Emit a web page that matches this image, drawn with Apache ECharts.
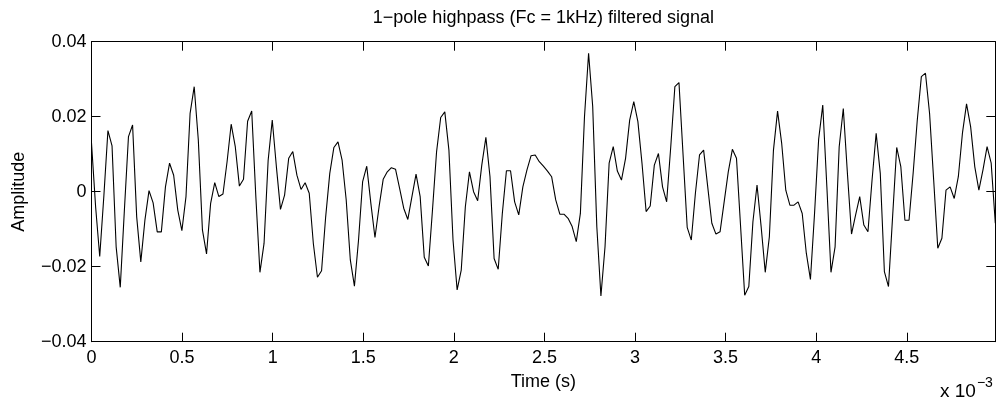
<!DOCTYPE html>
<html>
<head>
<meta charset="utf-8">
<script src="https://cdn.jsdelivr.net/npm/echarts@6/dist/echarts.min.js"></script>
<style>
html,body{margin:0;padding:0;background:#fff;}
#chart{width:997px;height:406px;}
</style>
</head>
<body>
<div id="chart"></div>
<script>
// Sample rate and filtered signal samples
const sampleRate = 44100;
const amplitude = [
 0.013, -0.004, -0.0173, -0.0013, 0.0163, 0.0122, -0.0147, -0.0255, -0.005, 0.0147,
 0.0178, -0.0067, -0.0187, -0.0076, 0.0003, -0.003, -0.0107, -0.0107, 0.0013, 0.0076,
 0.0044, -0.0049, -0.0104, -0.0013, 0.0209, 0.028, 0.0138, -0.0102, -0.0166, -0.0031,
 0.0024, -0.0013, -0.0006, 0.008, 0.018, 0.012, 0.0015, 0.0033, 0.0188, 0.0215,
 -0.0013, -0.0215, -0.0138, 0.0084, 0.0191, 0.0067, -0.0047, -0.0009, 0.0089, 0.0107,
 0.0044, 0.0006, 0.0024, -0.0004, -0.0138, -0.0228, -0.0211, -0.0067, 0.0049, 0.0118,
 0.0133, 0.0084, -0.0022, -0.0182, -0.0252, -0.0129, 0.0027, 0.0068, -0.0031, -0.0122,
 -0.004, 0.0033, 0.0053, 0.0064, 0.006, 0.0009, -0.0044, -0.0074, -0.0013, 0.0047,
 -0.0013, -0.0175, -0.0198, -0.0049, 0.0107, 0.0198, 0.0213, 0.0111, -0.0129, -0.0262,
 -0.0209, -0.004, 0.0053, 0.0, -0.0024, 0.0071, 0.0145, 0.004, -0.0178, -0.0207,
 -0.0058, 0.0056, 0.0056, -0.0027, -0.0062, 0.0013, 0.0058, 0.0096, 0.0098, 0.008,
 0.0068, 0.0055, 0.004, -0.0022, -0.006, -0.006, -0.0071, -0.0093, -0.0133, -0.0058,
 0.02, 0.0369, 0.0227, -0.0093, -0.0278, -0.0147, 0.0076, 0.012, 0.0055, 0.0031,
 0.0089, 0.0191, 0.024, 0.0187, 0.0076, -0.0053, -0.0038, 0.0071, 0.0102, 0.0013,
 -0.0027, 0.012, 0.028, 0.0291, 0.0098, -0.0095, -0.0129, -0.0004, 0.0098, 0.0111,
 0.0013, -0.0084, -0.0113, -0.0107, -0.0027, 0.0053, 0.0113, 0.0089, -0.0093, -0.0276,
 -0.0253, -0.008, 0.0018, -0.0093, -0.0215, -0.012, 0.0111, 0.0215, 0.0129, 0.0004,
 -0.0036, -0.0036, -0.0027, -0.0058, -0.0164, -0.0234, -0.0058, 0.014, 0.0231, 0.0013,
 -0.0215, -0.0147, 0.012, 0.0222, 0.0049, -0.0113, -0.0062, -0.0013, -0.0089, -0.0107,
 0.0031, 0.0156, 0.0049, -0.0213, -0.0253, -0.0067, 0.0118, 0.0067, -0.0076, -0.0076,
 0.0049, 0.019, 0.0307, 0.0316, 0.0209, 0.0031, -0.0151, -0.0124, 0.0004, 0.0013,
 -0.0018, 0.004, 0.0156, 0.0234, 0.0173, 0.0067, 0.0004, 0.0058, 0.012, 0.0076,
 -0.0084
];
const xTickStep = 0.0005;
const yTicks = [-0.04, -0.02, 0, 0.02, 0.04];
const titleText = '1\u2212pole highpass (Fc = 1kHz) filtered signal';
const xName = 'Time (s)';
const yName = 'Amplitude';

(function () {
const points = amplitude.map((v, i) => [i / sampleRate, v]);
const xMax = (amplitude.length - 1) / sampleRate;

const FONT = '"Liberation Sans", Arial, Helvetica, sans-serif';
const FS = 18;
const gL = 91.5, gR = 995.3, gT = 41.7, gB = 341.7;

function fmtX(v) {
  const ms = Math.round(v * 1e4) / 10;
  return String(ms);
}
function fmtY(v) {
  const r = Math.round(v * 100) / 100;
  if (r === 0) return '0';
  return (r < 0 ? '\u2212' : '') + Math.abs(r).toFixed(2);
}

const chart = echarts.init(document.getElementById('chart'), null, {renderer: 'canvas'});
const axisLine = {show: true, onZero: false, lineStyle: {color: '#000', width: 1}};
const tick = {show: true, inside: true, length: 9, lineStyle: {color: '#000', width: 1}};
chart.setOption({
  animation: false,
  backgroundColor: '#fff',
  grid: {left: gL, top: gT, width: gR - gL, height: gB - gT, show: false},
  xAxis: [{
    type: 'value', min: 0, max: xMax, interval: xTickStep, position: 'bottom',
    axisLine: axisLine, axisTick: tick, splitLine: {show: false},
    axisLabel: {formatter: fmtX, color: '#000', fontFamily: FONT, fontSize: FS, margin: 7, showMaxLabel: false},
    name: xName, nameLocation: 'middle', nameGap: 31,
    nameTextStyle: {color: '#000', fontFamily: FONT, fontSize: FS}
  }, {
    type: 'value', min: 0, max: xMax, interval: xTickStep, position: 'top',
    axisLine: axisLine, axisTick: tick, splitLine: {show: false}, axisLabel: {show: false}
  }],
  yAxis: [{
    type: 'value', min: yTicks[0], max: yTicks[yTicks.length - 1], interval: yTicks[1] - yTicks[0], position: 'left',
    axisLine: axisLine, axisTick: tick, splitLine: {show: false},
    axisLabel: {formatter: fmtY, color: '#000', fontFamily: FONT, fontSize: FS, margin: 5},
    name: yName, nameLocation: 'middle', nameGap: 63, nameRotate: 90,
    nameTextStyle: {color: '#000', fontFamily: FONT, fontSize: FS}
  }, {
    type: 'value', min: yTicks[0], max: yTicks[yTicks.length - 1], interval: yTicks[1] - yTicks[0], position: 'right',
    axisLine: axisLine, axisTick: tick, splitLine: {show: false}, axisLabel: {show: false}
  }],
  series: [{
    type: 'line', data: points, xAxisIndex: 0, yAxisIndex: 0,
    showSymbol: false, symbol: 'none',
    lineStyle: {color: '#000', width: 1.1}, clip: true
  }],
  graphic: [{
    type: 'text', x: (gL + gR) / 2, y: 18,
    style: {text: titleText, fill: '#000', font: FS + 'px ' + FONT, align: 'center', verticalAlign: 'middle'}
  }, {
    type: 'text', x: 940, y: 401,
    style: {
      text: '{b|x 10}{s|\u22123}',
      rich: {
        b: {fill: '#000', fontFamily: FONT, fontSize: 19, verticalAlign: 'bottom'},
        s: {fill: '#000', fontFamily: FONT, fontSize: 14, verticalAlign: 'bottom', padding: [0, 0, 11, 1]}
      },
      verticalAlign: 'bottom'
    }
  }]
});
})();
</script>
</body>
</html>
